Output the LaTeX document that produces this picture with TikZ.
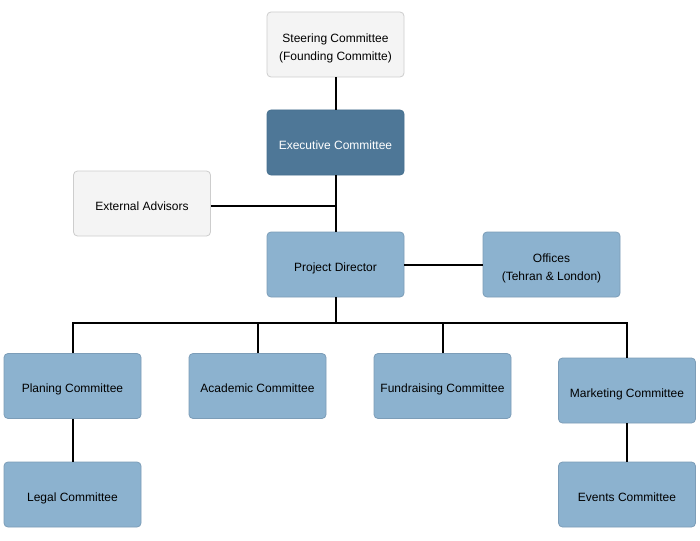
\documentclass[tikz,border=0pt]{standalone}
\usepackage{fontspec}
\setmainfont{Liberation Sans}
\newcommand{\boxtext}[1]{\raisebox{-3pt}[\height][\depth]{\renewcommand{\arraystretch}{1.2}\begin{tabular}{@{}c@{}}#1\end{tabular}}}
\begin{document}
\begin{tikzpicture}[x=1pt,y=-1pt,
  box/.style={draw=#1, rounded corners=4pt, minimum width=137pt, minimum height=65pt, inner sep=0pt, font=\fontsize{12}{15}\selectfont, line width=0.8pt},
  graybox/.style={box=graybd, fill=grayfill, text=black},
  bluebox/.style={box=bluebd, fill=bluefill, text=black},
  darkbox/.style={box=darkbd, fill=darkfill, text=white},
  link/.style={line width=2pt, black}]
\definecolor{grayfill}{HTML}{F4F4F4}
\definecolor{graybd}{HTML}{CDCDCD}
\definecolor{bluefill}{HTML}{8CB2CF}
\definecolor{bluebd}{HTML}{7C9DB8}
\definecolor{darkfill}{HTML}{4E7797}
\definecolor{darkbd}{HTML}{46708F}
\useasboundingbox (0,0) rectangle (700,540);
\fill[white] (0,0) rectangle (700,540);
\coordinate (busL) at (72.5,323);
\coordinate (busR) at (627,323);
\coordinate (mid) at (335.5,323);
\coordinate (adv) at (335.5,206);
\node[graybox] (steer) at (335.5,44.5) {\boxtext{Steering Committee\\(Founding Committe)}};
\node[darkbox] (exec) at (335.5,142.5) {\boxtext{Executive Committee}};
\node[graybox] (ext) at (142,203.5) {\boxtext{External Advisors}};
\node[bluebox] (pd) at (335.5,264.5) {\boxtext{Project Director}};
\node[bluebox] (off) at (551.5,264.5) {\boxtext{Offices\\(Tehran \& London)}};
\node[bluebox] (plan) at (72.5,386) {\boxtext{Planing Committee}};
\node[bluebox] (acad) at (257.5,386) {\boxtext{Academic Committee}};
\node[bluebox] (fund) at (442.5,386) {\boxtext{Fundraising Committee}};
\node[bluebox] (mark) at (627,390.5) {\boxtext{Marketing Committee}};
\node[bluebox] (legal) at (72.5,494.5) {\boxtext{Legal Committee}};
\node[bluebox] (events) at (627,494.5) {\boxtext{Events Committee}};
\draw[link] (steer.south) -- (exec.north);
\draw[link] (exec.south) -- (pd.north);
\draw[link] (ext.east |- adv) -- (adv);
\draw[link] (pd.east) -- (off.west);
\draw[link] (pd.south) -- (mid);
\draw[link] (plan.north) -- (busL) -- (busR) -- (mark.north);
\draw[link] (acad.north) -- (acad.north |- mid);
\draw[link] (fund.north) -- (fund.north |- mid);
\draw[link] (plan.south) -- (legal.north);
\draw[link] (mark.south) -- (events.north);
\end{tikzpicture}
\end{document}
